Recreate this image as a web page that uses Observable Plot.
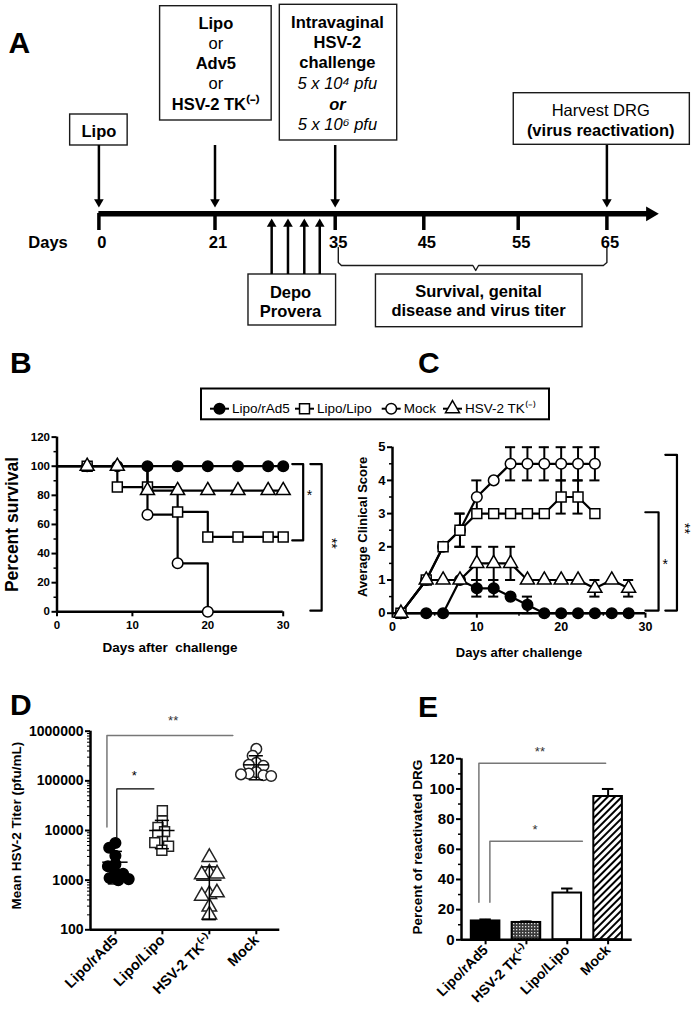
<!DOCTYPE html>
<html><head><meta charset="utf-8">
<script src="https://cdn.jsdelivr.net/npm/d3@7"></script>
<script src="https://cdn.jsdelivr.net/npm/@observablehq/plot@0.6"></script>
<style>
html,body{margin:0;padding:0;background:#fff;}
#fig{position:relative;width:695px;height:1017px;overflow:hidden;background:#fff;}
#fig > svg{position:absolute;overflow:visible;}
</style></head><body><div id="fig"></div>
<script>
const FONT = '"Liberation Sans", Arial, Helvetica, sans-serif';

// ================= DATA =================
// Panel A: timeline (days)
const timelineDays = [0, 21, 35, 45, 55, 65];
const injectionDays = [0, 21, 35, 65];
const depoDays = [27.6, 29.5, 31.4, 33.2];

// Panel B: survival (%)
const survGroups = ["Lipo/rAd5", "Lipo/Lipo", "Mock", "HSV-2 TK⁽⁻⁾"];
const survDays = [0, 4, 8, 12, 16, 20, 24, 28, 30];
const survRAd5 = [100, 100, 100, 100, 100, 100, 100, 100, 100];
const survLipo = [100, 100, 85.7, 85.7, 68.6, 51.4, 51.4, 51.4, 51.4];
const survTK   = [100, 100, 100, 83.3, 83.3, 83.3, 83.3, 83.3, 83.3];
const mockSurvDays = [0, 12, 16, 20];
const survMock = [100, 66.7, 33.3, 0];

// Panel C: average clinical score
const scoreDays = [1, 4, 6, 8, 10, 12, 14, 16, 18, 20, 22, 24, 26, 28];
const scoreRAd5 = [0, 0, 0, 1, 0.75, 0.75, 0.5, 0.25, 0, 0, 0, 0, 0, 0];
const sdRAd5    = [0, 0, 0, 0, 0.25, 0.25, 0, 0.25, 0, 0, 0, 0, 0, 0];
const scoreTK   = [0, 1, 1, 1, 1.5, 1.5, 1.5, 1, 1, 1, 1, 0.75, 1, 0.75];
const sdTK      = [0, 0, 0, 0, 0.5, 0.5, 0.5, 0, 0, 0, 0, 0.25, 0, 0.25];
const scoreDaysShort = [1, 4, 6, 8, 10, 12, 14, 16, 18, 20, 22, 24];
const scoreLipo = [0, 1, 2, 2.5, 3, 3, 3, 3, 3, 3.5, 3.5, 3];
const sdLipo    = [0, 0, 0, 0.5, 0, 0, 0, 0, 0, 0.5, 0.5, 0];
const scoreMock = [0, 1, 2, 2.5, 3.5, 4, 4.5, 4.5, 4.5, 4.5, 4.5, 4.5];
const sdMock    = [0, 0, 0, 0.5, 0.5, 0, 0.5, 0.5, 0.5, 0.5, 0.5, 0.5];

// Panel D: virus titer (pfu/mL)
const titerGroups = ["Lipo/rAd5", "Lipo/Lipo", "HSV-2 TK⁽⁻⁾", "Mock"];
const titerRAd5 = [5600, 4500, 3100, 2100, 1900, 1400, 1350, 1100, 1050, 1000];
const titerLipo = [25000, 15500, 11500, 9500, 8000, 6000, 5700, 4800, 4000];
const titerTK   = [2900, 1400, 1300, 1350, 520, 480, 560, 290, 200];
const titerMock = [440000, 320000, 230000, 210000, 200000, 150000, 140000, 130000, 125000, 135000];
const titerMean = [2300, 10000, 1000, 210000];
const titerSdLo = [840, 4300, 160, 105000];
const titerSdHi = [3800, 16000, 1850, 320000];

// Panel E: reactivated DRG (%)
const drgGroups = ["Lipo/rAd5", "HSV-2 TK⁽⁻⁾", "Lipo/Lipo", "Mock"];
const drgValues = [12.5, 11.5, 31, 95];
const drgErrTop = [13.5, 12.2, 34, 100];

// ================= HELPERS =================
const fig = document.getElementById("fig");
function place(svg, left, top) {
  svg.style.left = left + "px";
  svg.style.top = top + "px";
  fig.appendChild(svg);
}
const baseStyle = {fontFamily: FONT, fontWeight: "bold", background: "transparent", overflow: "visible", color: "black"};

// ================= PANEL A =================
const aBoxes = [
  {x1: -5.2, x2: 5.2, y1: 114, y2: 145},
  {x1: 11.07, x2: 27.6, y1: 5.7, y2: 120},
  {x1: 28.55, x2: 42.0, y1: 4.3, y2: 140},
  {x1: 54.53, x2: 74.35, y1: 92.7, y2: 144.3},
  {x1: 24.9, x2: 35.1, y1: 274, y2: 325},
  {x1: 39.6, x2: 62.25, y1: 274, y2: 326.7}
];
const aText = [
  {d: 0, y: 131.7, t: "Lipo", s: "b"},
  {d: 21.1, y: 23.3, t: "Lipo", s: "b"},
  {d: 21.1, y: 43.3, t: "or", s: "n"},
  {d: 21.1, y: 63.3, t: "Adv5", s: "b"},
  {d: 21.1, y: 83.3, t: "or", s: "n"},
  {d: 21.1, y: 104.5, t: "HSV-2 TK⁽⁻⁾", s: "b"},
  {d: 35.25, y: 22.3, t: "Intravaginal", s: "b"},
  {d: 35.25, y: 42.3, t: "HSV-2", s: "b"},
  {d: 35.25, y: 62.7, t: "challenge", s: "b"},
  {d: 35.25, y: 83.3, t: "5 x 10⁴ pfu", s: "i"},
  {d: 35.25, y: 104.3, t: "or", s: "bi"},
  {d: 35.25, y: 124.3, t: "5 x 10⁶ pfu", s: "i"},
  {d: 64.3, y: 110, t: "Harvest DRG", s: "n"},
  {d: 64.3, y: 130, t: "(virus reactivation)", s: "b"},
  {d: 29.8, y: 292.3, t: "Depo", s: "b"},
  {d: 29.8, y: 311.7, t: "Provera", s: "b"},
  {d: 50.8, y: 291.7, t: "Survival, genital", s: "b"},
  {d: 50.8, y: 310.7, t: "disease and virus titer", s: "b"},
  {d: -9.2, y: 242, t: "Days", s: "b"}
];
const brace = [
  {d: 35.35, y: 247}, {d: 35.35, y: 262}, {d: 35.7, y: 265}, {d: 50.2, y: 265},
  {d: 50.5, y: 270}, {d: 50.8, y: 265}, {d: 64.6, y: 265}, {d: 65, y: 262}, {d: 65, y: 247}
];
const aStyles = {b: {fontWeight: "bold"}, n: {fontWeight: "normal"}, i: {fontWeight: "normal", fontStyle: "italic"}, bi: {fontWeight: "bold", fontStyle: "italic"}};

const aPlot = Plot.plot({
  width: 695, height: 335, margin: 0,
  x: {type: "linear", domain: timelineDays, range: [98.4, 214.5, 334.7, 423.3, 517.7, 606.4], axis: null},
  y: {type: "linear", domain: [0, 335], range: [0, 335], axis: null},
  style: {...baseStyle, fontSize: "16.5px"},
  marks: [
    Plot.rect(aBoxes, {x1: "x1", x2: "x2", y1: "y1", y2: "y2", fill: "white", stroke: "#1a1a1a", strokeWidth: 1.4}),
    Plot.ruleY([213.3], {x1: 0, x2: 69.6, strokeWidth: 5.5}),
    Plot.dot([69.9], {x: d => d, y: 213.3, symbol: "triangle2", r: 7, rotate: 90, fill: "black", stroke: "none"}),
    Plot.ruleX(timelineDays, {x: d => d, y1: 213, y2: 230, strokeWidth: 3.5}),
    Plot.ruleX(injectionDays, {x: d => d, y1: 145, y2: 203, strokeWidth: 2.5}),
    Plot.dot(injectionDays, {x: d => d, y: 201.5, symbol: "triangle2", r: 4.6, rotate: 180, fill: "black", stroke: "none"}),
    Plot.ruleX(depoDays, {x: d => d, y1: 223, y2: 274, strokeWidth: 2.5}),
    Plot.dot(depoDays, {x: d => d, y: 223.5, symbol: "triangle2", r: 4.6, rotate: 0, fill: "black", stroke: "none"}),
    Plot.line(brace, {x: "d", y: "y", strokeWidth: 1.4, stroke: "#1a1a1a"}),
    Plot.text(timelineDays, {x: d => d, y: 242, text: d => String(d), dx: 3, fontWeight: "bold"}),
    ...Object.entries(aStyles).map(([k, st]) =>
      Plot.text(aText.filter(r => r.s === k), {x: "d", y: "y", text: "t", ...st}))
  ]
});
place(aPlot, 0, 0);

// ================= PANEL B =================
const survRows = [
  ...survDays.map((d, i) => ({g: survGroups[0], day: d, v: survRAd5[i]})),
  ...survDays.map((d, i) => ({g: survGroups[1], day: d, v: survLipo[i]})),
  ...mockSurvDays.map((d, i) => ({g: survGroups[2], day: d, v: survMock[i]})),
  ...survDays.map((d, i) => ({g: survGroups[3], day: d, v: survTK[i]}))
];
const markerRows = g => survRows.filter(r => r.g === g && r.day > 0);
const bBrackets = [
  {k: "a", pts: [[31.2, 101.5], [32.65, 101.5], [32.65, 49], [31.2, 49]]},
  {k: "b", pts: [[33.6, 101.5], [35.1, 101.5], [35.1, 0.8], [33.6, 0.8]]}
].flatMap(b => b.pts.map(p => ({k: b.k, x: p[0], y: p[1]})));

const bPlot = Plot.plot({
  width: 345, height: 240,
  marginLeft: 56.5, marginRight: 62.3, marginTop: 16.6, marginBottom: 48.7,
  x: {domain: [0, 30]}, y: {domain: [0, 120]},
  style: {...baseStyle, fontSize: "11.5px"},
  marks: [
    Plot.axisY({ticks: d3.range(0, 121, 20), tickSize: 5, tickPadding: 2, strokeWidth: 2, label: null, fontSize: 11.5}),
    Plot.axisY({ticks: d3.range(10, 120, 20), tickSize: 3, tickFormat: () => "", strokeWidth: 1.5, label: null}),
    Plot.axisX({ticks: [0, 10, 20, 30], tickSize: 5, tickPadding: 4, strokeWidth: 2, label: null, fontSize: 11.5}),
    Plot.ruleX([0], {strokeWidth: 2.5}),
    Plot.ruleY([0], {strokeWidth: 2.5}),
    Plot.line(survRows, {x: "day", y: "v", z: "g", curve: "step-after", strokeWidth: 2.2}),
    Plot.dot(markerRows(survGroups[0]), {x: "day", y: "v", r: 5.3, fill: "black", stroke: "black"}),
    Plot.dot(markerRows(survGroups[1]), {x: "day", y: "v", symbol: "square", r: 5.6, fill: "white", stroke: "black", strokeWidth: 1.5}),
    Plot.dot(markerRows(survGroups[2]), {x: "day", y: "v", r: 5.3, fill: "white", stroke: "black", strokeWidth: 1.5}),
    Plot.dot(markerRows(survGroups[3]), {x: "day", y: "v", symbol: "triangle", r: 5.2, fill: "white", stroke: "black", strokeWidth: 1.5}),
    Plot.line(bBrackets, {x: "x", y: "y", z: "k", strokeWidth: 2.2}),
    Plot.text(["*"], {x: 33.5, y: 80, fontSize: 14, fontWeight: "normal"}),
    Plot.text(["**"], {x: 36.4, y: 47, rotate: 90, fontSize: 14, fontWeight: "normal", fill: "black"}),
    Plot.text(["Percent survival"], {x: -5.9, y: 60, rotate: -90, fontSize: 17.5}),
    Plot.text(["Days after\u00a0 challenge"], {frameAnchor: "bottom", dy: 40, fontSize: 13.5})
  ]
});
place(bPlot, 0, 420);

// ================= PANEL C =================
function scoreRowsOf(g, days, vals, sds) { return days.map((d, i) => ({g, day: d, v: vals[i], sd: sds[i]})); }
const cRAd5 = scoreRowsOf("Lipo/rAd5", scoreDays, scoreRAd5, sdRAd5);
const cLipo = scoreRowsOf("Lipo/Lipo", scoreDaysShort, scoreLipo, sdLipo);
const cMock = scoreRowsOf("Mock", scoreDaysShort, scoreMock, sdMock);
const cTK = scoreRowsOf("HSV-2 TK", scoreDays, scoreTK, sdTK);
const cAll = [...cRAd5, ...cMock, ...cLipo, ...cTK];
const cErr = cAll.filter(r => r.sd > 0);
const cCaps = cErr.flatMap(r => [{day: r.day, y: r.v - r.sd}, {day: r.day, y: r.v + r.sd}]);
const cBrackets = [
  {k: "a", pts: [[29.98, 3.04], [31.55, 3.04], [31.55, 0.08], [29.98, 0.08]]},
  {k: "b", pts: [[32.35, 4.77], [33.73, 4.77], [33.73, 0.08], [32.35, 0.08]]}
].flatMap(b => b.pts.map(p => ({k: b.k, x: p[0], y: p[1]})));

const cPlot = Plot.plot({
  width: 350, height: 240,
  marginLeft: 47, marginRight: 50, marginTop: 26.7, marginBottom: 47.3,
  x: {domain: [0, 30]}, y: {domain: [0, 5]},
  style: {...baseStyle, fontSize: "12.5px"},
  marks: [
    Plot.axisY({ticks: [0, 1, 2, 3, 4, 5], tickFormat: d => String(d), tickSize: 5, tickPadding: 2, strokeWidth: 2, label: null, fontSize: 13}),
    Plot.axisY({ticks: [0.5, 1.5, 2.5, 3.5, 4.5], tickSize: 3, tickFormat: () => "", strokeWidth: 1.5, label: null}),
    Plot.axisX({ticks: [0, 10, 20, 30], tickSize: 5, tickPadding: 4, strokeWidth: 2, label: null, fontSize: 12.5}),
    Plot.axisX({ticks: [5, 15, 25], tickSize: 3, tickFormat: () => "", strokeWidth: 1.5, label: null}),
    Plot.ruleX([0], {strokeWidth: 2.5}),
    Plot.ruleY([0], {strokeWidth: 2.5}),
    Plot.line(cAll, {x: "day", y: "v", z: "g", strokeWidth: 2.2}),
    Plot.ruleX(cErr, {x: "day", y1: d => d.v - d.sd, y2: d => d.v + d.sd, strokeWidth: 2}),
    Plot.ruleY(cCaps, {y: "y", x1: d => d.day - 0.6, x2: d => d.day + 0.6, strokeWidth: 2}),
    Plot.dot(cRAd5, {x: "day", y: "v", r: 5.3, fill: "black", stroke: "black"}),
    Plot.dot(cMock, {x: "day", y: "v", r: 5.3, fill: "white", stroke: "black", strokeWidth: 1.5}),
    Plot.dot(cLipo, {x: "day", y: "v", symbol: "square", r: 5.6, fill: "white", stroke: "black", strokeWidth: 1.5}),
    Plot.dot(cTK, {x: "day", y: "v", symbol: "triangle", r: 5.2, fill: "white", stroke: "black", strokeWidth: 1.5}),
    Plot.line(cBrackets, {x: "x", y: "y", z: "k", strokeWidth: 2.2}),
    Plot.text(["*"], {x: 32.35, y: 1.47, fontSize: 14, fontWeight: "normal"}),
    Plot.text(["**"], {x: 34.6, y: 2.55, rotate: 90, fontSize: 14, fontWeight: "normal", fill: "black"}),
    Plot.text(["Average Clinical Score"], {x: -3.47, y: 2.6, rotate: -90, fontSize: 13, letterSpacing: "1.6px"}),
    Plot.text(["Days after challenge"], {frameAnchor: "bottom", dy: 44, fontSize: 13})
  ]
});
place(cPlot, 345, 420);

// ================= PANEL D =================
const PX_PER_DECADE = 49.65, D_STEP = 47.25, D_SEP = 3.9;
function dodge(values) {
  // simple beeswarm: horizontal offsets (in group-index units) that limit marker overlap
  const placed = [];
  return values.map(v => {
    const y = -Math.log10(v) * PX_PER_DECADE;
    const cands = [0];
    for (const p of placed) {
      const dy = y - p.y;
      if (Math.abs(dy) < 2 * D_SEP) {
        const w = Math.sqrt(4 * D_SEP * D_SEP - dy * dy);
        cands.push(p.x - w, p.x + w);
      }
    }
    cands.sort((a, b) => Math.abs(a) - Math.abs(b) || a - b);
    const ok = cands.find(c => placed.every(p => (c - p.x) ** 2 + (y - p.y) ** 2 >= 4 * D_SEP * D_SEP - 0.01));
    placed.push({x: ok, y});
    return ok / D_STEP;
  });
}
const titerSets = [titerRAd5, titerLipo, titerTK, titerMock];
const dPoints = titerSets.flatMap((vals, gi) => {
  const off = dodge(vals);
  return vals.map((v, j) => ({gi, v, x: gi + off[j]}));
});
const dStats = titerGroups.map((g, i) => ({i, mean: titerMean[i], lo: titerSdLo[i], hi: titerSdHi[i]}));
const dCaps = dStats.flatMap(s => [{i: s.i, y: s.lo}, {i: s.i, y: s.hi}]);
const dMinor = d3.range(2, 6).flatMap(k => d3.range(2, 10).map(m => m * 10 ** k));
const dBr2 = [{x: -0.18, y: 11700}, {x: -0.18, y: 818000}, {x: 2.5, y: 818000}];
const dBr1 = [{x: 0.03, y: 7300}, {x: 0.03, y: 69000}, {x: 0.82, y: 69000}];

const dPlot = Plot.plot({
  width: 345, height: 317,
  marginLeft: 90, marginRight: 65.7, marginTop: 30.7, marginBottom: 87.7,
  x: {domain: [-0.53, 3.5]},
  y: {type: "log", domain: [100, 1e6]},
  style: {...baseStyle, fontSize: "14px"},
  marks: [
    Plot.axisY({ticks: [100, 1000, 10000, 100000, 1000000], tickFormat: d => String(d), tickSize: 5, tickPadding: 2, strokeWidth: 2, label: null, fontSize: 14}),
    Plot.axisY({ticks: dMinor, tickSize: 3, tickFormat: () => "", strokeWidth: 1, label: null}),
    Plot.axisX({ticks: [0, 1, 2, 3], tickFormat: i => titerGroups[i], tickRotate: -45, tickSize: 5, tickPadding: 3, strokeWidth: 2, label: null, fontSize: 14.5}),
    Plot.ruleX([-0.53], {strokeWidth: 2.5}),
    Plot.ruleY([100], {strokeWidth: 2.5}),
    Plot.dot(dPoints.filter(p => p.gi === 0), {x: "x", y: "v", r: 5.3, fill: "black", stroke: "black"}),
    Plot.dot(dPoints.filter(p => p.gi === 1), {x: "x", y: "v", symbol: "square", r: 5.6, fill: "white", stroke: "#222", strokeWidth: 1.5}),
    Plot.dot(dPoints.filter(p => p.gi === 2), {x: "x", y: "v", symbol: "triangle", r: 5.4, fill: "white", stroke: "#222", strokeWidth: 1.5}),
    Plot.dot(dPoints.filter(p => p.gi === 3), {x: "x", y: "v", r: 5.3, fill: "white", stroke: "#222", strokeWidth: 1.5}),
    Plot.ruleX(dStats, {x: "i", y1: "lo", y2: "hi", strokeWidth: 1.5}),
    Plot.ruleY(dCaps, {y: "y", x1: d => d.i - 0.15, x2: d => d.i + 0.15, strokeWidth: 1.5}),
    Plot.ruleY(dStats, {y: "mean", x1: d => d.i - 0.27, x2: d => d.i + 0.27, strokeWidth: 1.5}),
    Plot.line(dBr2, {x: "x", y: "y", stroke: "#777", strokeWidth: 1.5}),
    Plot.line(dBr1, {x: "x", y: "y", stroke: "black", strokeWidth: 1.2}),
    Plot.text(["**"], {x: 1.23, y: 1.6e6, fontSize: 13, fontWeight: "normal", fill: "#333"}),
    Plot.text(["*"], {x: 0.4, y: 128000, fontSize: 13, fontWeight: "normal"}),
    Plot.text(["Mean HSV-2 Titer (pfu/mL)"], {x: -2.11, y: 12600, rotate: -90, fontSize: 13.5})
  ]
});
place(dPlot, 0, 700);

// ================= PANEL E =================
const eData = drgGroups.map((g, i) => ({g, i, v: drgValues[i], top: drgErrTop[i]}));
const eFills = ["black", "url(#stippleTK)", "white", "url(#hatchMock)"];
const eBr2 = [{x: -0.164, y: 24.9}, {x: -0.164, y: 117.1}, {x: 2.94, y: 117.1}];
const eBr1 = [{x: 0.105, y: 24.9}, {x: 0.105, y: 65.4}, {x: 2.37, y: 65.4}];

const ePlot = Plot.plot({
  width: 350, height: 277,
  marginLeft: 116, marginRight: 63.3, marginTop: 18.3, marginBottom: 77.7,
  x: {domain: [-0.59, 3.59]},
  y: {domain: [0, 120]},
  style: {...baseStyle, fontSize: "15px"},
  marks: [
    Plot.axisY({ticks: d3.range(0, 121, 20), tickSize: 5, tickPadding: 2, strokeWidth: 2, label: null, fontSize: 15}),
    Plot.axisY({ticks: d3.range(10, 120, 20), tickSize: 3, tickFormat: () => "", strokeWidth: 1.5, label: null}),
    Plot.axisX({ticks: [0, 1, 2, 3], tickFormat: i => drgGroups[i], tickRotate: -45, tickSize: 5, tickPadding: 3, strokeWidth: 2, label: null, fontSize: 14}),
    Plot.ruleX(eData, {x: "i", y1: "v", y2: "top", strokeWidth: 2}),
    Plot.ruleY(eData, {y: "top", x1: d => d.i - 0.14, x2: d => d.i + 0.14, strokeWidth: 2}),
    ...eData.map((d, i) => Plot.rect([d], {x1: r => r.i - 0.35, x2: r => r.i + 0.35, y1: 0, y2: "v", fill: eFills[i], stroke: "black", strokeWidth: 2})),
    Plot.ruleX([-0.59], {strokeWidth: 2.5}),
    Plot.ruleY([0], {strokeWidth: 2.5}),
    Plot.line(eBr2, {x: "x", y: "y", stroke: "#777", strokeWidth: 1.5}),
    Plot.line(eBr1, {x: "x", y: "y", stroke: "#777", strokeWidth: 1.5}),
    Plot.text(["**"], {x: 1.33, y: 124.4, fontSize: 13, fontWeight: "normal", fill: "#333"}),
    Plot.text(["*"], {x: 1.21, y: 72.9, fontSize: 13, fontWeight: "normal", fill: "#333"}),
    Plot.text(["Percent of reactivated DRG"], {x: -1.66, y: 61.4, rotate: -90, fontSize: 13.5})
  ]
});
{
  const defs = d3.select(ePlot).insert("defs", ":first-child");
  const h = defs.append("pattern").attr("id", "hatchMock").attr("patternUnits", "userSpaceOnUse")
    .attr("width", 5).attr("height", 5).attr("patternTransform", "rotate(45)");
  h.append("rect").attr("width", 5).attr("height", 5).attr("fill", "white");
  h.append("line").attr("x1", 1).attr("y1", 0).attr("x2", 1).attr("y2", 5).attr("stroke", "black").attr("stroke-width", 2);
  const s = defs.append("pattern").attr("id", "stippleTK").attr("patternUnits", "userSpaceOnUse")
    .attr("width", 3).attr("height", 3);
  s.append("rect").attr("width", 3).attr("height", 3).attr("fill", "#3a3a3a");
  s.append("rect").attr("x", 0).attr("y", 0).attr("width", 1.3).attr("height", 1.3).attr("fill", "#dddddd");
}
place(ePlot, 345, 740);

// ================= OVERLAY: panel letters + legend =================
const ov = d3.create("svg").attr("width", 695).attr("height", 1017)
  .style("left", "0px").style("top", "0px").style("pointer-events", "none")
  .attr("font-family", FONT);
const letters = [["A", 8.5, 53.3], ["B", 10, 373], ["C", 418, 373], ["D", 10, 715], ["E", 418, 717]];
ov.selectAll("text.lt").data(letters).join("text").attr("class", "lt")
  .attr("x", d => d[1]).attr("y", d => d[2]).attr("font-size", 30).attr("font-weight", "bold").text(d => d[0]);

const lg = ov.append("g");
lg.append("rect").attr("x", 201).attr("y", 388.5).attr("width", 348).attr("height", 30.8)
  .attr("fill", "white").attr("stroke", "black").attr("stroke-width", 2);
const legendItems = [
  {label: survGroups[0], x0: 210, sym: d3.symbolCircle, fill: "black", size: Math.PI * 5.3 * 5.3},
  {label: survGroups[1], x0: 295, sym: d3.symbolSquare, fill: "white", size: Math.PI * 5.6 * 5.6},
  {label: survGroups[2], x0: 381.7, sym: d3.symbolCircle, fill: "white", size: Math.PI * 5.3 * 5.3},
  {label: survGroups[3], x0: 443, sym: d3.symbolTriangle, fill: "white", size: Math.PI * 5.2 * 5.2}
];
const ly = 408.7;
for (const it of legendItems) {
  lg.append("line").attr("x1", it.x0).attr("x2", it.x0 + 19).attr("y1", ly).attr("y2", ly).attr("stroke", "black").attr("stroke-width", 2);
  lg.append("path").attr("d", d3.symbol(it.sym, it.size)()).attr("transform", `translate(${it.x0 + 9.5},${ly})`)
    .attr("fill", it.fill).attr("stroke", "black").attr("stroke-width", 1.5);
  lg.append("text").attr("x", it.x0 + 22).attr("y", ly).attr("dy", "0.35em").attr("font-size", 13.5).text(it.label);
}
fig.appendChild(ov.node());
</script>
</body></html>
